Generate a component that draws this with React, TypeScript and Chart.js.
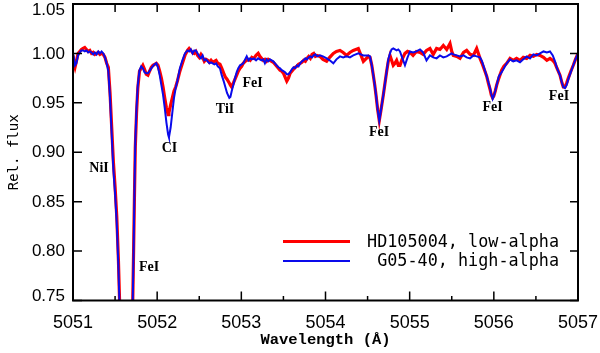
import React, { useEffect, useRef } from "react";
import { Chart, registerables } from "chart.js";

Chart.register(...registerables);

// Wavelength grid (Å)
const wavelength = [
  5051.000, 5051.012, 5051.024, 5051.040, 5051.060, 5051.080, 5051.100, 5051.120, 5051.140, 5051.160,
  5051.180, 5051.200, 5051.220, 5051.240, 5051.260, 5051.280, 5051.300, 5051.320, 5051.340, 5051.360,
  5051.380, 5051.400, 5051.420, 5051.440, 5051.460, 5051.480, 5051.500, 5051.520, 5051.540, 5051.560,
  5051.600, 5051.630, 5051.660, 5051.690, 5051.710, 5051.720, 5051.730, 5051.740, 5051.755, 5051.770,
  5051.790, 5051.810, 5051.830, 5051.850, 5051.870, 5051.890, 5051.910, 5051.930, 5051.950, 5051.970,
  5051.990, 5052.010, 5052.030, 5052.050, 5052.070, 5052.090, 5052.110, 5052.130, 5052.140, 5052.160,
  5052.180, 5052.200, 5052.220, 5052.240, 5052.270, 5052.300, 5052.330, 5052.360, 5052.380, 5052.400,
  5052.420, 5052.440, 5052.460, 5052.480, 5052.500, 5052.520, 5052.540, 5052.560, 5052.580, 5052.600,
  5052.620, 5052.640, 5052.660, 5052.680, 5052.700, 5052.720, 5052.746, 5052.767, 5052.790, 5052.810,
  5052.830, 5052.857, 5052.870, 5052.886, 5052.905, 5052.925, 5052.945, 5052.964, 5052.985, 5053.004,
  5053.023, 5053.045, 5053.064, 5053.085, 5053.105, 5053.125, 5053.150, 5053.175, 5053.200, 5053.220,
  5053.240, 5053.260, 5053.280, 5053.300, 5053.320, 5053.340, 5053.360, 5053.380, 5053.400, 5053.420,
  5053.440, 5053.460, 5053.480, 5053.500, 5053.520, 5053.540, 5053.560, 5053.580, 5053.600, 5053.620,
  5053.640, 5053.660, 5053.680, 5053.700, 5053.720, 5053.740, 5053.760, 5053.780, 5053.800, 5053.820,
  5053.840, 5053.860, 5053.880, 5053.900, 5053.934, 5053.970, 5054.014, 5054.050, 5054.093, 5054.130,
  5054.172, 5054.210, 5054.250, 5054.290, 5054.330, 5054.390, 5054.450, 5054.510, 5054.529, 5054.550,
  5054.568, 5054.585, 5054.600, 5054.620, 5054.639, 5054.660, 5054.687, 5054.707, 5054.727, 5054.746,
  5054.766, 5054.785, 5054.805, 5054.825, 5054.845, 5054.865, 5054.885, 5054.910, 5054.944, 5054.975,
  5055.004, 5055.040, 5055.080, 5055.123, 5055.160, 5055.200, 5055.241, 5055.280, 5055.320, 5055.360,
  5055.400, 5055.440, 5055.479, 5055.500, 5055.518, 5055.560, 5055.598, 5055.640, 5055.677, 5055.717,
  5055.757, 5055.796, 5055.836, 5055.860, 5055.890, 5055.915, 5055.935, 5055.954, 5055.970, 5055.986,
  5056.000, 5056.017, 5056.034, 5056.060, 5056.093, 5056.120, 5056.153, 5056.192, 5056.230, 5056.270,
  5056.311, 5056.350, 5056.390, 5056.430, 5056.470, 5056.510, 5056.549, 5056.590, 5056.630, 5056.667,
  5056.700, 5056.727, 5056.750, 5056.786, 5056.810, 5056.825, 5056.845, 5056.865, 5056.885, 5056.915,
  5056.944, 5056.970, 5057.000,
];

// HD105004, low-alpha (red)
const fluxLowAlpha = [
  0.998, 0.990, 0.986, 0.992, 1.000, 1.002, 1.004, 1.005, 1.006, 1.004,
  1.002, 1.003, 1.000, 1.001, 0.999, 1.000, 1.001, 0.999, 1.000, 0.999,
  0.996, 0.990, 0.986, 0.960, 0.925, 0.890, 0.865, 0.835, 0.790, 0.730,
  0.600, 0.560, 0.600, 0.700, 0.750, 0.800, 0.855, 0.905, 0.940, 0.965,
  0.982, 0.985, 0.988, 0.984, 0.979, 0.978, 0.982, 0.986, 0.988, 0.989,
  0.990, 0.988, 0.982, 0.975, 0.966, 0.955, 0.945, 0.938, 0.940, 0.948,
  0.955, 0.962, 0.966, 0.972, 0.982, 0.990, 0.998, 1.003, 1.005, 1.003,
  1.001, 1.000, 1.002, 0.998, 0.996, 0.999, 0.996, 0.992, 0.994, 0.993,
  0.991, 0.993, 0.991, 0.992, 0.993, 0.990, 0.989, 0.985, 0.980, 0.976,
  0.974, 0.970, 0.968, 0.966, 0.970, 0.974, 0.978, 0.982, 0.985, 0.987,
  0.990, 0.992, 0.993, 0.994, 0.993, 0.996, 0.995, 0.998, 1.000, 0.997,
  0.995, 0.993, 0.994, 0.992, 0.994, 0.993, 0.992, 0.991, 0.989, 0.987,
  0.985, 0.983, 0.982, 0.980, 0.976, 0.972, 0.975, 0.980, 0.982, 0.984,
  0.986, 0.987, 0.989, 0.990, 0.991, 0.993, 0.992, 0.995, 0.997, 0.995,
  0.999, 1.000, 0.997, 0.998, 0.997, 0.994, 0.992, 0.996, 1.000, 1.002,
  1.003, 1.001, 0.998, 1.001, 1.003, 1.005, 0.992, 0.997, 0.996, 0.988,
  0.978, 0.968, 0.958, 0.943, 0.932, 0.943, 0.958, 0.970, 0.982, 0.992,
  0.998, 0.993, 0.988, 0.990, 0.993, 0.988, 0.988, 0.994, 1.000, 1.002,
  1.001, 0.998, 1.002, 1.001, 0.999, 1.003, 1.005, 0.999, 1.005, 1.004,
  1.008, 1.004, 1.010, 1.002, 0.998, 0.997, 0.995, 1.001, 1.003, 0.999,
  0.998, 1.005, 0.995, 0.990, 0.983, 0.977, 0.970, 0.964, 0.958, 0.955,
  0.957, 0.962, 0.968, 0.975, 0.983, 0.987, 0.990, 0.995, 0.993, 0.995,
  0.993, 0.996, 0.995, 0.998, 0.997, 0.999, 0.998, 0.996, 0.993, 0.995,
  0.993, 0.990, 0.985, 0.978, 0.970, 0.966, 0.966, 0.970, 0.975, 0.982,
  0.988, 0.994, 1.000,
];

// G05-40, high-alpha (blue)
const fluxHighAlpha = [
  1.000, 0.995, 0.988, 0.990, 0.998, 1.001, 1.003, 1.003, 1.002, 1.003,
  1.001, 1.002, 1.001, 0.999, 1.001, 0.999, 1.002, 1.000, 1.002, 1.000,
  0.996, 0.990, 0.982, 0.955, 0.918, 0.882, 0.858, 0.828, 0.783, 0.722,
  0.600, 0.560, 0.600, 0.700, 0.750, 0.800, 0.860, 0.910, 0.945, 0.968,
  0.983, 0.987, 0.985, 0.981, 0.980, 0.980, 0.982, 0.985, 0.987, 0.989,
  0.990, 0.986, 0.978, 0.968, 0.958, 0.945, 0.930, 0.918, 0.915, 0.925,
  0.940, 0.955, 0.965, 0.972, 0.985, 0.993, 1.000, 1.003, 1.002, 1.004,
  1.000, 1.003, 1.003, 1.000, 0.997, 0.995, 0.998, 0.993, 0.994, 0.992,
  0.990, 0.991, 0.990, 0.989, 0.990, 0.987, 0.985, 0.978, 0.972, 0.966,
  0.960, 0.955, 0.956, 0.962, 0.968, 0.975, 0.981, 0.985, 0.988, 0.989,
  0.990, 0.994, 0.997, 0.993, 0.995, 0.994, 0.995, 0.993, 0.995, 0.994,
  0.993, 0.994, 0.990, 0.994, 0.992, 0.994, 0.993, 0.992, 0.990, 0.988,
  0.986, 0.985, 0.983, 0.982, 0.981, 0.979, 0.979, 0.981, 0.984, 0.986,
  0.985, 0.988, 0.987, 0.990, 0.992, 0.993, 0.995, 0.994, 0.996, 0.997,
  0.996, 0.998, 0.999, 0.997, 0.998, 0.997, 0.995, 0.993, 0.990, 0.994,
  0.997, 0.996, 0.997, 0.996, 0.998, 1.000, 0.998, 0.998, 0.997, 0.988,
  0.978, 0.968, 0.958, 0.943, 0.932, 0.943, 0.958, 0.970, 0.982, 0.994,
  1.000, 1.004, 1.005, 1.004, 1.003, 1.004, 1.002, 0.996, 0.988, 0.996,
  1.002, 1.001, 1.002, 1.004, 1.001, 0.993, 0.998, 0.996, 0.995, 0.998,
  0.996, 0.997, 0.999, 1.000, 0.999, 0.998, 0.997, 0.998, 0.996, 0.995,
  0.998, 0.997, 0.996, 0.992, 0.984, 0.977, 0.971, 0.965, 0.959, 0.954,
  0.957, 0.962, 0.968, 0.977, 0.981, 0.985, 0.990, 0.994, 0.992, 0.993,
  0.991, 0.994, 0.997, 0.995, 0.999, 0.998, 1.000, 1.002, 1.001, 1.002,
  0.998, 0.992, 0.985, 0.978, 0.970, 0.966, 0.965, 0.968, 0.974, 0.981,
  0.988, 0.994, 1.000,
];

const seriesNames = ["HD105004, low-alpha", "G05-40, high-alpha"];
const seriesColors = ["rgb(255,0,0)", "rgb(10,10,235)"];

const xTickValues = [5051, 5052, 5053, 5054, 5055, 5056, 5057];
const yTickValues = [0.75, 0.8, 0.85, 0.9, 0.95, 1.0, 1.05];

// Spectral line identifications
const lineLabelText = ["NiI", "CI", "TiI", "FeI", "FeI", "FeI", "FeI", "FeI"];
const lineLabelWavelength = [5051.309, 5052.146, 5052.806, 5053.133, 5054.636, 5055.984, 5056.774, 5051.903];
const lineLabelFlux = [0.884, 0.904, 0.943, 0.970, 0.920, 0.945, 0.957, 0.784];

const zeroPad = (s: any) => {
  s.paddingTop = 0;
  s.paddingBottom = 0;
  s.paddingLeft = 0;
  s.paddingRight = 0;
};

const framePlugin = {
  id: "idlFrame",
  afterDatasetsDraw(chart: any) {
    const { ctx, chartArea: a, scales } = chart;
    const x = scales.x;
    const y = scales.y;
    ctx.save();

    // line identification labels
    ctx.fillStyle = "#000";
    ctx.font = 'bold 14px "Liberation Serif", "Times New Roman", serif';
    ctx.textAlign = "center";
    ctx.textBaseline = "middle";
    lineLabelText.forEach((t, i) => {
      ctx.fillText(t, x.getPixelForValue(lineLabelWavelength[i]), y.getPixelForValue(lineLabelFlux[i]));
    });

    // y tick labels (end labels kept inside the frame height, IDL style)
    ctx.font = '17px "Liberation Sans", Arial, sans-serif';
    ctx.textAlign = "right";
    ctx.textBaseline = "middle";
    yTickValues.forEach((v) => {
      const py = Math.min(Math.max(y.getPixelForValue(v) + 0.5, a.top + 6), a.bottom - 4);
      ctx.fillText(v.toFixed(2), a.left - 8, py);
    });

    // frame
    ctx.strokeStyle = "#000";
    ctx.lineWidth = 2;
    ctx.strokeRect(a.left, a.top, a.right - a.left, a.bottom - a.top);

    // ticks (inward)
    ctx.lineWidth = 1.5;
    ctx.beginPath();
    xTickValues.forEach((v, i) => {
      const px = x.getPixelForValue(v);
      ctx.moveTo(px, a.bottom);
      ctx.lineTo(px, a.bottom - 9);
      ctx.moveTo(px, a.top);
      ctx.lineTo(px, a.top + 8);
      if (i < xTickValues.length - 1) {
        const pm = x.getPixelForValue((v + xTickValues[i + 1]) / 2);
        ctx.moveTo(pm, a.bottom);
        ctx.lineTo(pm, a.bottom - 4.5);
        ctx.moveTo(pm, a.top);
        ctx.lineTo(pm, a.top + 8);
      }
    });
    yTickValues.forEach((v) => {
      const py = y.getPixelForValue(v);
      ctx.moveTo(a.left, py);
      ctx.lineTo(a.left + 9, py);
      ctx.moveTo(a.right, py);
      ctx.lineTo(a.right - 8, py);
    });
    ctx.stroke();

    // legend (inside plot, lower right)
    const widths = [3.2, 2];
    const rowY = [a.bottom - 59, a.bottom - 39.5];
    ctx.font = '16.8px "DejaVu Sans Mono", monospace';
    ctx.textAlign = "right";
    ctx.textBaseline = "middle";
    chart.data.datasets.forEach((ds: any, i: number) => {
      ctx.strokeStyle = ds.borderColor;
      ctx.lineWidth = widths[i];
      ctx.beginPath();
      ctx.moveTo(a.right - 295, rowY[i]);
      ctx.lineTo(a.right - 228, rowY[i]);
      ctx.stroke();
      ctx.fillStyle = "#000";
      ctx.fillText(ds.label, a.right - 19, rowY[i] + 1);
    });

    ctx.restore();
  },
};

export default function App() {
  const canvasRef = useRef<HTMLCanvasElement | null>(null);

  useEffect(() => {
    const canvas = canvasRef.current;
    if (!canvas) return;
    const chart = new Chart(canvas, {
      type: "line",
      data: {
        datasets: [
          {
            label: seriesNames[0],
            data: wavelength.map((w, i) => ({ x: w, y: fluxLowAlpha[i] })),
            borderColor: seriesColors[0],
            borderWidth: 3.2,
            pointRadius: 0,
            tension: 0,
            order: 1,
            clip: 0,
          },
          {
            label: seriesNames[1],
            data: wavelength.map((w, i) => ({ x: w, y: fluxHighAlpha[i] })),
            borderColor: seriesColors[1],
            borderWidth: 2,
            pointRadius: 0,
            tension: 0,
            order: 0,
            clip: 0,
          },
        ],
      },
      options: {
        responsive: false,
        animation: false,
        devicePixelRatio: 1,
        events: [],
        layout: { padding: { left: 0, right: 22, top: 4, bottom: 0 } },
        plugins: { legend: { display: false }, tooltip: { enabled: false }, title: { display: false } },
        scales: {
          x: {
            type: "linear",
            min: 5051,
            max: 5057,
            grid: { display: false, drawTicks: false },
            border: { display: false },
            afterBuildTicks: (s: any) => {
              s.ticks = xTickValues.map((v) => ({ value: v }));
            },
            afterFit: (s: any) => {
              s.height = 52.5;
              zeroPad(s);
            },
            ticks: {
              padding: 12,
              color: "#000",
              maxRotation: 0,
              autoSkip: false,
              font: { family: '"Liberation Sans", Arial, sans-serif', size: 18 },
              callback: (v: any) => String(v),
            },
            title: {
              display: true,
              text: "Wavelength (Å)",
              color: "#000",
              font: { family: '"Liberation Mono", "Courier New", monospace', size: 15.5, weight: "bold", lineHeight: 1.2 },
              padding: { top: 0, bottom: 3.7 },
            },
          },
          y: {
            type: "linear",
            min: 0.75,
            max: 1.05,
            grid: { display: false, drawTicks: false },
            border: { display: false },
            afterBuildTicks: (s: any) => {
              s.ticks = yTickValues.map((v) => ({ value: v }));
            },
            afterFit: (s: any) => {
              s.width = 73;
              zeroPad(s);
            },
            ticks: { display: false },
            title: {
              display: true,
              text: "Rel. flux",
              color: "#000",
              font: { family: '"DejaVu Sans Mono", monospace', size: 14, lineHeight: 1.2 },
              padding: { top: 5.6, bottom: 0 },
            },
          },
        },
      } as any,
      plugins: [framePlugin],
    });
    return () => chart.destroy();
  }, []);

  return (
    <div style={{ position: "absolute", left: 0, top: 0, width: 600, height: 353, background: "#fff" }}>
      <canvas ref={canvasRef} width={600} height={353} style={{ display: "block" }} />
    </div>
  );
}
